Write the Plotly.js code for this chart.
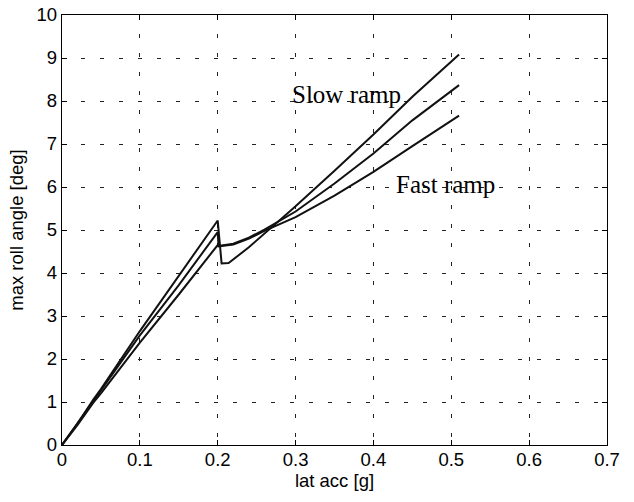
<!DOCTYPE html>
<html>
<head>
<meta charset="utf-8">
<script src="https://cdn.plot.ly/plotly-3.0.1.min.js"></script>
<style>html,body{margin:0;padding:0;background:#fff;}#chart{width:634px;height:502px;}</style>
</head>
<body>
<div id="chart"></div>
<script>
// Slow ramp (highest peak, drops lowest, ends highest)
const slowX = [0, 0.02, 0.04, 0.05, 0.1, 0.15, 0.2, 0.205, 0.214, 0.24, 0.26, 0.271, 0.3, 0.35, 0.4, 0.45, 0.51];
const slowY = [0, 0.5, 1.05, 1.3, 2.65, 3.95, 5.22, 4.22, 4.23, 4.6, 4.92, 5.08, 5.55, 6.38, 7.22, 8.1, 9.08];
// Medium ramp
const midX = [0, 0.02, 0.04, 0.05, 0.1, 0.15, 0.2, 0.201, 0.22, 0.24, 0.26, 0.3, 0.35, 0.4, 0.45, 0.51];
const midY = [0, 0.5, 1.02, 1.27, 2.55, 3.72, 4.95, 4.63, 4.68, 4.82, 5.01, 5.43, 6.08, 6.78, 7.55, 8.37];
// Fast ramp
const fastX = [0, 0.02, 0.04, 0.05, 0.1, 0.15, 0.2, 0.201, 0.22, 0.24, 0.26, 0.3, 0.35, 0.4, 0.45, 0.51];
const fastY = [0, 0.47, 0.98, 1.2, 2.38, 3.5, 4.65, 4.62, 4.66, 4.8, 4.98, 5.3, 5.8, 6.35, 6.95, 7.66];

const xTicks = [0, 0.1, 0.2, 0.3, 0.4, 0.5, 0.6, 0.7];
const xTickText = ['0', '0.1', '0.2', '0.3', '0.4', '0.5', '0.6', '0.7'];
const yTicks = [0, 1, 2, 3, 4, 5, 6, 7, 8, 9, 10];
const labels = ['Slow ramp', 'Fast ramp'];
const labelX = [0.365, 0.4926];
const labelY = [8.15, 6.05];

const lineStyle = {color: '#111', width: 2};
const traces = [
  {x: slowX, y: slowY, mode: 'lines', line: lineStyle, name: 'slow'},
  {x: midX, y: midY, mode: 'lines', line: lineStyle, name: 'mid'},
  {x: fastX, y: fastY, mode: 'lines', line: lineStyle, name: 'fast'}
];

const axFont = {family: 'Liberation Sans, Arial, sans-serif', size: 18.5, color: '#000'};
const layout = {
  width: 634, height: 502,
  margin: {l: 62, r: 27, t: 15, b: 57},
  paper_bgcolor: '#fff', plot_bgcolor: '#fff',
  showlegend: false,
  font: axFont,
  xaxis: {
    range: [0, 0.7], tickvals: xTicks, ticktext: xTickText,
    showline: true, linecolor: '#000', linewidth: 1.2, mirror: 'ticks',
    ticks: 'inside', ticklen: 5, tickcolor: '#000',
    showgrid: true, gridcolor: '#222', gridwidth: 1, griddash: '4px,15px',
    zeroline: false, tickfont: axFont, ticklabelstandoff: -2,
    title: {text: 'lat acc [g]', font: axFont, standoff: 4}
  },
  yaxis: {
    range: [0, 10], tickvals: yTicks,
    showline: true, linecolor: '#000', linewidth: 1.2, mirror: 'ticks',
    ticks: 'inside', ticklen: 5, tickcolor: '#000',
    showgrid: true, gridcolor: '#222', gridwidth: 1, griddash: '4px,15px',
    zeroline: false, tickfont: axFont,
    title: {text: 'max roll angle [deg]', font: axFont, standoff: 8}
  },
  annotations: labels.map((t, i) => ({
    x: labelX[i], y: labelY[i], xref: 'x', yref: 'y', text: t, showarrow: false,
    xanchor: 'center', yanchor: 'middle',
    font: {family: 'Liberation Serif, Times New Roman, serif', size: 25, color: '#000'}
  }))
};

Plotly.newPlot('chart', traces, layout, {displayModeBar: false, staticPlot: true});
</script>
</body>
</html>
